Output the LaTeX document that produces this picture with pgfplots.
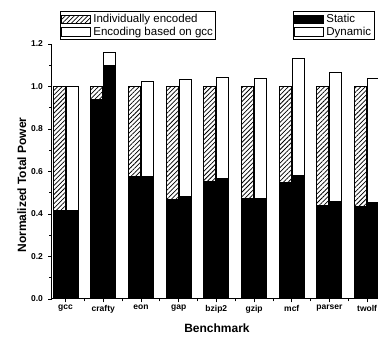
\documentclass[border=0pt]{standalone}
\usepackage{fontspec}
\setmainfont{Liberation Sans}
\usepackage{pgfplots}
\pgfplotsset{compat=1.18}
\usepackage{pgfplotstable}
\usetikzlibrary{patterns.meta}

% x: benchmark index; si/ti: individually encoded static/total; sg/tg: gcc-based static/total
\pgfplotstableread{
x si ti sg tg
0 0.415 1.0 0.415 1.0
1 0.94 1.0 1.10 1.16
2 0.575 1.0 0.575 1.025
3 0.468 1.0 0.48 1.033
4 0.551 1.0 0.567 1.044
5 0.472 1.0 0.475 1.036
6 0.546 1.0 0.583 1.131
7 0.44 1.0 0.461 1.065
8 0.433 1.0 0.456 1.036
}\data

\pgfplotsset{
  boxlegend/.style={legend image code/.code={\draw[##1,line width=0.9pt] (0pt,-4.3pt) rectangle (29pt,4.3pt);}},
  hatch/.style={pattern={Lines[angle=45, distance=3.2pt, line width=0.75pt]}},
}

\begin{document}
\begin{tikzpicture}[x=1pt,y=1pt]
\begin{axis}[
  at={(52pt,40pt)}, anchor=south west, scale only axis,
  width=334pt, height=255pt,
  xmin=-0.36, xmax=8.5, ymin=0, ymax=1.2,
  axis lines*=left,
  axis line style={line width=1pt},
  xtick={0,1,2,3,4,5,6,7,8},
  xticklabels={gcc,crafty,eon,gap,bzip2,gzip,mcf,parser,twolf},
  minor x tick num=1,
  ytick={0,0.2,0.4,0.6,0.8,1.0,1.2},
  minor y tick num=1,
  tick align=outside,
  major tick length=3.5pt, minor tick length=2.5pt,
  tick style={line width=0.8pt, black},
  /pgf/number format/assume math mode=true,
  yticklabel style={/pgf/number format/fixed, /pgf/number format/fixed zerofill, /pgf/number format/precision=1, xshift=-2pt},
  ticklabel style={font=\fontsize{8.5}{9}\selectfont\bfseries},
  xticklabel style={yshift=1pt},
  ylabel={Normalized Total Power},
  xlabel={Benchmark},
  label style={font=\fontsize{12}{13}\selectfont\bfseries},
  ylabel style={at={(axis description cs:-0.09,0.447)}, anchor=center},
  xlabel style={at={(axis description cs:0.494,-0.114)}, anchor=center},
  boxlegend,
  legend style={at={(rel axis cs:0.024,1.129)}, anchor=north west,
    font=\fontsize{11.5}{12}\selectfont, draw=black, line width=0.9pt,
    inner sep=1pt, row sep=-1.5pt, legend cell align=left},
]
\addlegendimage{hatch, draw=black}
\addlegendentry{Individually encoded}
\addlegendimage{fill=white, draw=black}
\addlegendentry{Encoding based on gcc\hspace{34pt}}

\addplot[forget plot, ybar, bar width=12pt, bar shift=-6.5pt, draw=black, line width=1pt, hatch] table[x=x,y=ti]{\data};
\addplot[forget plot, ybar, bar width=12pt, bar shift=-6.5pt, draw=black, line width=1pt, fill=black] table[x=x,y=si]{\data};
\addplot[forget plot, ybar, bar width=12pt, bar shift=6.5pt, draw=black, line width=1pt, fill=white] table[x=x,y=tg]{\data};
\addplot[forget plot, ybar, bar width=12pt, bar shift=6.5pt, draw=black, line width=1pt, fill=black] table[x=x,y=sg]{\data};
\end{axis}

\begin{axis}[
  at={(52pt,40pt)}, anchor=south west, scale only axis,
  width=334pt, height=255pt, hide axis,
  xmin=0, xmax=1, ymin=0, ymax=1,
  boxlegend,
  legend style={at={(rel axis cs:0.7216,1.129)}, anchor=north west,
    font=\fontsize{11.5}{12}\selectfont, draw=black, line width=0.9pt,
    inner sep=1pt, row sep=-1.5pt, legend cell align=left},
]
\addlegendimage{fill=black, draw=black}
\addlegendentry{Static}
\addlegendimage{fill=white, draw=black}
\addlegendentry{Dynamic}
\end{axis}

\pgfresetboundingbox
\path[use as bounding box] (0,0) rectangle (378,339);
\end{tikzpicture}
\end{document}
